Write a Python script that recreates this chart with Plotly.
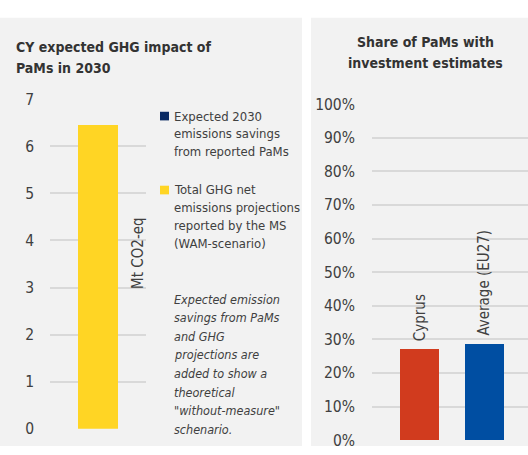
import plotly.graph_objects as go

# ---- data ----
cy_category = ["CY"]
ghg_projection = [6.45]      # Total GHG net emissions projections (WAM)
pams_savings = [0.0]         # Expected 2030 emissions savings from PaMs
left_ticks = [0, 1, 2, 3, 4, 5, 6, 7]

share_categories = ["Cyprus", "Average (EU27)"]
share_values = [0.271, 0.286]
share_colors = ["#D13B1E", "#004EA2"]
right_ticks = [i / 10 for i in range(11)]

W, H = 528, 455
FONT = "DejaVu Sans Condensed, DejaVu Sans, sans-serif"
TXT = "#404040"
HEAD = "#333333"
GRID = "#d9d9d9"
PANEL = "#f2f2f2"


def px(x):
    return x / W


def py(y):
    return 1 - y / H


def line_notes(lines, x, y0, step, size, italic=False, color=TXT):
    out = []
    for i, t in enumerate(lines):
        out.append(dict(text=f"<i>{t}</i>" if italic else t, x=px(x), y=py(y0 + i * step),
                        xanchor="left", yanchor="middle", font=dict(size=size, color=color)))
    return out


fig = go.Figure()

fig.add_trace(go.Bar(
    x=cy_category, y=ghg_projection, marker=dict(color="#FFD524", line=dict(width=0)),
    width=0.41, xaxis="x", yaxis="y", hoverinfo="y",
))
fig.add_trace(go.Bar(
    x=cy_category, y=pams_savings, marker=dict(color="#0A2A63", line=dict(width=0)),
    width=0.41, xaxis="x", yaxis="y", hoverinfo="y",
))
fig.add_trace(go.Bar(
    x=[0, 1], y=share_values, marker=dict(color=share_colors, line=dict(width=0)),
    width=0.6, xaxis="x2", yaxis="y2", hoverinfo="y",
))

shapes = [
    dict(type="rect", xref="paper", yref="paper", x0=px(0), x1=px(302), y0=py(H), y1=py(9),
         fillcolor=PANEL, line=dict(width=0), layer="below"),
    dict(type="rect", xref="paper", yref="paper", x0=px(311), x1=px(W), y0=py(H), y1=py(9),
         fillcolor=PANEL, line=dict(width=0), layer="below"),
    dict(type="rect", xref="paper", yref="paper", x0=px(160), x1=px(169), y0=py(116), y1=py(107),
         fillcolor="#0A2A63", line=dict(width=0)),
    dict(type="rect", xref="paper", yref="paper", x0=px(160), x1=px(169), y0=py(193), y1=py(184),
         fillcolor="#FFD524", line=dict(width=0)),
]

annotations = []
annotations += line_notes(["<b>CY expected GHG impact of</b>", "<b>PaMs in 2030</b>"],
                          14, 40, 21.5, 14, color=HEAD)
for i, t in enumerate(["<b>Share of PaMs with</b>", "<b>investment estimates</b>"]):
    annotations.append(dict(text=t, x=px(425), y=py(34 + i * 22), xanchor="center",
                            yanchor="middle", font=dict(size=14, color=HEAD)))
annotations.append(dict(text="Mt CO2-eq", x=px(138), y=py(254), textangle=-90,
                        xanchor="center", yanchor="middle", font=dict(size=15, color=TXT)))
annotations += line_notes(["Expected 2030", "emissions savings", "from reported PaMs"],
                          172, 112, 18, 13)
annotations += line_notes(["Total GHG net", "emissions projections", "reported by the MS",
                           "(WAM-scenario)"], 172, 188, 18.6, 13)
annotations += line_notes(["Expected emission", "savings from PaMs", "and GHG", "projections are",
                           "added to show a", "theoretical", "\"without-measure\"", "schenario."],
                          172, 302, 19.4, 12.5, italic=True)
for i, (name, val) in enumerate(zip(share_categories, share_values)):
    annotations.append(dict(
        text=name, x=i, y=val, xref="x2", yref="y2", textangle=-90,
        xanchor="center", yanchor="bottom", yshift=6, font=dict(size=15, color=TXT),
    ))
for a in annotations:
    a.setdefault("xref", "paper")
    a.setdefault("yref", "paper")
    a["showarrow"] = False

fig.update_layout(
    width=W, height=H,
    margin=dict(l=0, r=0, t=0, b=0),
    paper_bgcolor="white", plot_bgcolor="rgba(0,0,0,0)",
    font=dict(family=FONT, color=TXT, size=15),
    barmode="stack", showlegend=False,
    shapes=shapes, annotations=annotations,
    xaxis=dict(domain=[px(50), px(146)], range=[-0.5, 0.5], showticklabels=False,
               showgrid=False, zeroline=False),
    yaxis=dict(domain=[py(437), py(94)], range=[0, 7], tickvals=left_ticks,
               showgrid=True, gridcolor=GRID, gridwidth=2, zeroline=False,
               ticklabelstandoff=15, tickfont=dict(size=15.5, color=TXT)),
    xaxis2=dict(domain=[px(372), 1], range=[-0.731, 1.669], showticklabels=False,
                showgrid=False, zeroline=False, anchor="y2"),
    yaxis2=dict(domain=[py(449), py(99)], range=[0, 1], tickvals=right_ticks,
                tickformat=".0%", showgrid=True, gridcolor=GRID, gridwidth=2,
                zeroline=False, anchor="x2", ticklabelstandoff=16,
                tickfont=dict(size=15.5, color=TXT)),
)

fig.write_html("out.html", post_script="document.body.style.margin='0';",
               config={"displayModeBar": False})
